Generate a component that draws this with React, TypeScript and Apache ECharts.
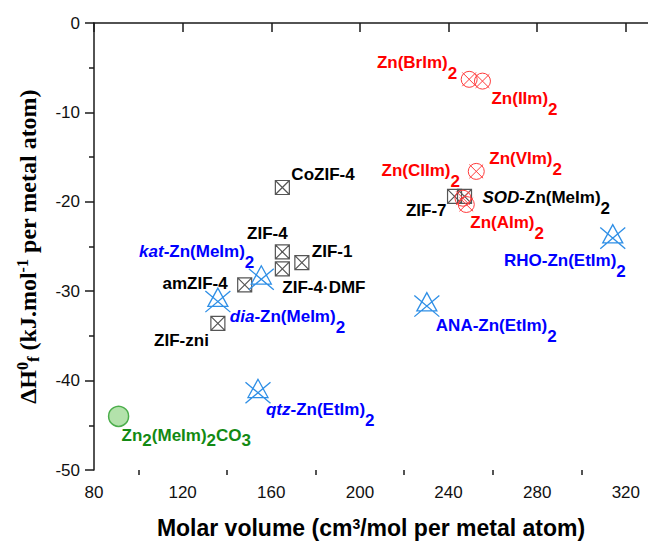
import React, { useEffect, useRef } from 'react';
import * as echarts from 'echarts';

// ---- data ----
const xTickValues = [80, 120, 160, 200, 240, 280, 320];
const xMinorTickValues = [100, 140, 180, 220, 260, 300];

// black squares: ZIFs
const zifNames = ['CoZIF-4', 'ZIF-4', 'ZIF-1', 'ZIF-4·DMF', 'amZIF-4', 'ZIF-zni', 'ZIF-7', 'SOD-Zn(MeIm)2'];
const zifVolume = [165, 165, 173.8, 165, 148, 135.9, 242.7, 247.2];
const zifEnthalpy = [-18.4, -25.6, -26.8, -27.5, -29.3, -33.6, -19.4, -19.4];

// red circles: substituted imidazolates
const halNames = ['Zn(BrIm)2', 'Zn(IIm)2', 'Zn(VIm)2', 'Zn(ClIm)2', 'Zn(AIm)2'];
const halVolume = [249.3, 255.3, 252.5, 246.5, 248];
const halEnthalpy = [-6.3, -6.5, -16.6, -19.6, -20.3];

// blue marks
const blueNames = ['kat-Zn(MeIm)2', 'dia-Zn(MeIm)2', 'qtz-Zn(EtIm)2', 'ANA-Zn(EtIm)2', 'RHO-Zn(EtIm)2'];
const blueVolume = [155.5, 135.9, 154, 230.2, 314.1];
const blueEnthalpy = [-28.5, -31.0, -41.2, -31.5, -23.9];

// green circle
const carbNames = ['Zn2(MeIm)2CO3'];
const carbVolume = [91.1];
const carbEnthalpy = [-44.0];

// ---- label layout (align, dx, dy from mark centre) ----
const zifLabelLayout: [string, number, number][] = [
  ['left', 9, -13], ['center', -15, -18], ['left', 10, -11], ['left', 0, 19],
  ['right', -17, -1], ['right', -9, 17], ['right', -8, 14], ['left', 18, 1],
];
const halLabelLayout: [string, number, number][] = [
  ['right', -12, -17], ['left', 9, 17.5], ['left', 13, -12.5], ['right', -3, -27.5], ['left', 4, 18.5],
];
const blueLabelLayout: [string, number, number][] = [
  ['right', -7, -26], ['left', 12, 16], ['left', 8, 18], ['left', 9, 21], ['right', 13, 24],
];
const carbLabelLayout: [string, number, number][] = [['left', 3, 19]];

const SANS = '"Liberation Sans", Arial, sans-serif';
const SERIF = '"Liberation Serif", "Times New Roman", serif';

const toRich = (name: string) => {
  let s = name.replace(/^(kat|dia|qtz|SOD)-/, '{i|$1}{m|-');
  if (!s.startsWith('{i|')) s = '{m|' + s;
  s = s.replace(/(\)|Zn|CO)(\d)/g, '$1}{s|$2}{m|');
  s = s + '}';
  return s.replace(/\{m\|\}/g, '');
};

const richFor = (color: string, subPad: number, size: number) => ({
  m: { fontFamily: SANS, fontSize: size, fontWeight: 'bold', color },
  i: { fontFamily: SANS, fontSize: size, fontWeight: 'bold', fontStyle: 'italic', color },
  s: { fontFamily: SANS, fontSize: size, fontWeight: 'bold', color, padding: [subPad, 0, 0, 0] },
});

const squareX = 'path://M0,0L20,0L20,20L0,20Z M0,0L20,20 M20,0L0,20';
const circleX = 'path://M17,10A7,7 0 1 1 3,10A7,7 0 1 1 17,10Z M4,4L16,16 M16,4L4,16';
const triX = 'path://M12.5,0L2.5,19L22.5,19Z M0,3L25,25 M25,3L0,25';

function makeSeries(
  seriesName: string,
  names: string[],
  xs: number[],
  ys: number[],
  layout: [string, number, number][],
  symbol: string,
  symbolSize: number | number[],
  itemStyle: any,
  labelColor: string,
  subPad: number,
  fontSize = 17,
) {
  return {
    type: 'scatter',
    name: seriesName,
    symbol,
    symbolSize,
    itemStyle: { opacity: 1, ...itemStyle },
    emphasis: { disabled: true },
    data: names.map((n, i) => ({
      name: n,
      value: [xs[i], ys[i]],
      label: {
        align: layout[i][0],
        offset: [layout[i][1], layout[i][2]],
        formatter: toRich(n),
      },
    })),
    label: {
      show: true,
      position: 'inside',
      verticalAlign: 'middle',
      opacity: 1,
      fontFamily: SANS,
      fontSize,
      fontWeight: 'bold',
      color: labelColor,
      rich: richFor(labelColor, subPad, fontSize),
    },
  };
}

const option: any = {
  animation: false,
  backgroundColor: '#ffffff',
  grid: { left: 94, top: 23, right: 0, bottom: 71, containLabel: false, outerBoundsMode: 'none' },
  xAxis: [
    {
      type: 'value',
      min: 80,
      max: 330,
      interval: 40,
      name: '{m|Molar volume (cm}{sup|3}{m|/mol per metal atom)}',
      nameLocation: 'middle',
      nameGap: 46,
      nameTextStyle: {
        rich: {
          m: { fontFamily: SANS, fontSize: 23, fontWeight: 'bold', color: '#000' },
          sup: { fontFamily: SANS, fontSize: 14, fontWeight: 'bold', color: '#000', padding: [0, 0, 8, 0] },
        },
      },
      axisLine: { show: true, lineStyle: { color: '#1a1a1a', width: 1.5 } },
      axisTick: { show: true, length: 9, customValues: xTickValues, lineStyle: { color: '#1a1a1a', width: 1.5 } },
      axisLabel: { customValues: xTickValues, margin: 14, fontFamily: SANS, fontSize: 17, color: '#111' },
      splitLine: { show: false },
    },
    {
      type: 'value',
      min: 80,
      max: 330,
      position: 'bottom',
      axisLine: { show: false },
      axisTick: { show: true, length: 5, customValues: xMinorTickValues, lineStyle: { color: '#1a1a1a', width: 1.5 } },
      axisLabel: { show: false },
      splitLine: { show: false },
    },
  ],
  yAxis: {
    type: 'value',
    min: -50,
    max: 0,
    interval: 10,
    name: '{m|ΔH}{sup|0}{sub|f}{m| (kJ.mol}{sup|-1}{m| per metal atom)}',
    nameLocation: 'middle',
    nameRotate: 90,
    nameGap: 52,
    nameTextStyle: {
      rich: {
        m: { fontFamily: SERIF, fontSize: 24, fontWeight: 'bold', color: '#000' },
        sup: { fontFamily: SERIF, fontSize: 16, fontWeight: 'bold', color: '#000', padding: [0, 0, 12, 0] },
        sub: { fontFamily: SERIF, fontSize: 17, fontWeight: 'bold', color: '#000', padding: [11, 0, 0, 0] },
      },
    },
    axisLine: { show: true, lineStyle: { color: '#1a1a1a', width: 1.5 } },
    axisTick: { show: true, length: 9, lineStyle: { color: '#1a1a1a', width: 1.5 } },
    minorTick: { show: true, splitNumber: 2, length: 5, lineStyle: { color: '#1a1a1a', width: 1.5 } },
    axisLabel: { margin: 14, fontFamily: SANS, fontSize: 17, color: '#111' },
    splitLine: { show: false },
    minorSplitLine: { show: false },
  },
  series: [
    makeSeries('ZIF', zifNames, zifVolume, zifEnthalpy, zifLabelLayout, squareX, 14,
      { color: 'rgba(255,255,255,0)', borderColor: '#555555', borderWidth: 1.2 }, '#000000', 22),
    makeSeries('EtIm/MeIm', blueNames, blueVolume, blueEnthalpy, blueLabelLayout, triX, [25, 24],
      { color: 'rgba(255,255,255,0)', borderColor: '#2f8fe6', borderWidth: 1.3 }, '#0000ff', 22),
    makeSeries('carbonate', carbNames, carbVolume, carbEnthalpy, carbLabelLayout, 'circle', 20,
      { color: '#b3e2ab', borderColor: '#4cae4c', borderWidth: 1.5 }, '#138a13', 10),
    makeSeries('substituted', halNames, halVolume, halEnthalpy, halLabelLayout, circleX, 16,
      { color: 'rgba(255,255,255,0)', borderColor: '#ff3b3b', borderWidth: 1 }, '#ff0000', 22),
  ],
};

export default function App() {
  const ref = useRef<HTMLDivElement>(null);
  useEffect(() => {
    const chart = echarts.init(ref.current!, null, { renderer: 'svg' });
    chart.setOption(option);
    return () => chart.dispose();
  }, []);
  return <div ref={ref} style={{ position: 'fixed', left: 0, top: 0, width: 648, height: 541 }} />;
}
